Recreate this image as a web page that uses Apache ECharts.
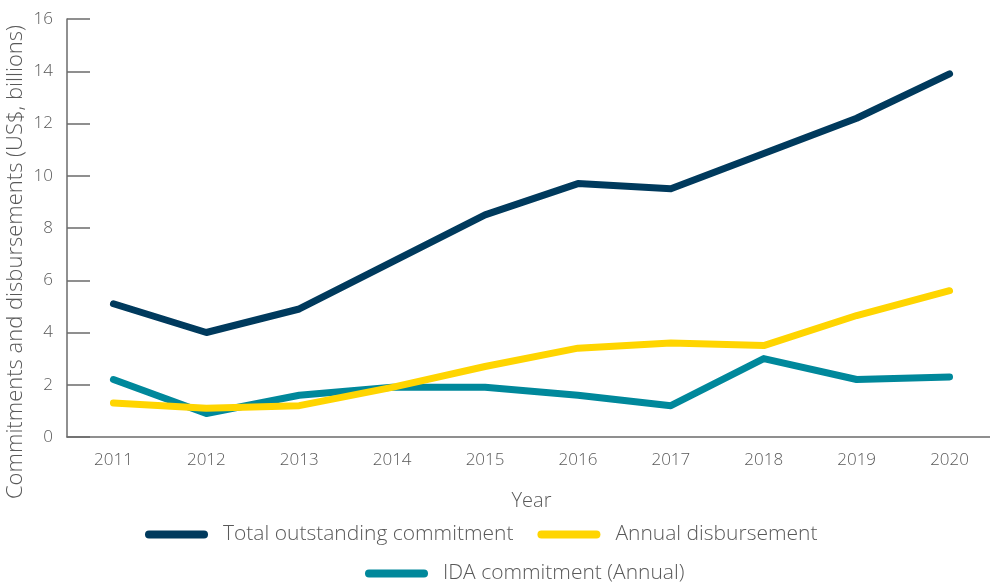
<!DOCTYPE html>
<html>
<head>
<meta charset="utf-8">
<script src="https://cdn.jsdelivr.net/npm/echarts@6/dist/echarts.min.js"></script>
<style>
  html, body { margin: 0; padding: 0; background: #ffffff; }
  #chart { width: 990px; height: 582px; }
</style>
</head>
<body>
<div id="chart"></div>
<script>
const years = ["2011", "2012", "2013", "2014", "2015", "2016", "2017", "2018", "2019", "2020"];
const totalOutstanding = [5.1, 4.0, 4.9, 6.7, 8.5, 9.7, 9.5, 10.85, 12.2, 13.9];
const annualDisbursement = [1.3, 1.1, 1.2, 1.9, 2.7, 3.4, 3.6, 3.5, 4.65, 5.6];
const idaCommitment = [2.2, 0.9, 1.6, 1.9, 1.9, 1.6, 1.2, 3.0, 2.2, 2.3];

const textColor = "#595959";
const axisColor = "#6b6b6b";
const fontName = "Open Sans";
// pill shaped legend icon
const pill = "path://M4,0 H59 A4,4 0 0 1 59,8 H4 A4,4 0 0 1 4,0 Z";

const myChart = echarts.init(document.getElementById("chart"));

const legendText = {
  color: textColor,
  fontFamily: fontName,
  fontWeight: 300,
  fontSize: 21,
  padding: [0, 0, 0, 10]
};

const option = {
  backgroundColor: "#ffffff",
  animation: false,
  grid: {
    left: 67,
    right: -6,
    top: 19,
    bottom: 145,
    outerBoundsMode: "none"
  },
  legend: [
    {
      left: 140,
      top: 519,
      icon: pill,
      itemWidth: 63,
      itemHeight: 9,
      itemGap: 24,
      textStyle: legendText,
      data: ["Total outstanding commitment", "Annual disbursement"]
    },
    {
      left: 360,
      top: 558,
      icon: pill,
      itemWidth: 63,
      itemHeight: 9,
      textStyle: legendText,
      data: ["IDA commitment (Annual)"]
    }
  ],
  xAxis: {
    type: "category",
    data: years,
    boundaryGap: true,
    name: "Year",
    nameLocation: "middle",
    nameGap: 54,
    nameMoveOverlap: false,
    nameTextStyle: {
      color: textColor,
      fontFamily: fontName,
      fontWeight: 300,
      fontSize: 20
    },
    axisLine: { lineStyle: { color: axisColor, width: 1.5 } },
    axisTick: {
      inside: true,
      length: 9,
      lineStyle: { color: axisColor, width: 1.5 }
    },
    axisLabel: {
      color: textColor,
      fontFamily: fontName,
      fontWeight: 300,
      fontSize: 17,
      margin: 15
    },
    splitLine: { show: false }
  },
  yAxis: {
    type: "value",
    min: 0,
    max: 16,
    interval: 2,
    name: "Commitments and disbursements (US$, billions)",
    nameLocation: "middle",
    nameGap: 40,
    nameMoveOverlap: false,
    nameTextStyle: {
      color: textColor,
      fontFamily: fontName,
      fontWeight: 300,
      fontSize: 22,
      padding: [0, 68, 0, 0]
    },
    axisLine: { show: true, lineStyle: { color: axisColor, width: 1.5 } },
    axisTick: {
      show: true,
      inside: true,
      length: 23,
      lineStyle: { color: axisColor, width: 1.5 }
    },
    axisLabel: {
      color: textColor,
      fontFamily: fontName,
      fontWeight: 300,
      fontSize: 17,
      margin: 14
    },
    splitLine: { show: false }
  },
  series: [
    {
      name: "Total outstanding commitment",
      type: "line",
      data: totalOutstanding,
      showSymbol: false,
      symbol: "none",
      itemStyle: { color: "#003a5d" },
      lineStyle: { color: "#003a5d", width: 7, cap: "round", join: "round" }
    },
    {
      name: "IDA commitment (Annual)",
      type: "line",
      data: idaCommitment,
      showSymbol: false,
      symbol: "none",
      itemStyle: { color: "#00889b" },
      lineStyle: { color: "#00889b", width: 7, cap: "round", join: "round" }
    },
    {
      name: "Annual disbursement",
      type: "line",
      data: annualDisbursement,
      showSymbol: false,
      symbol: "none",
      itemStyle: { color: "#ffd500" },
      lineStyle: { color: "#ffd500", width: 7, cap: "round", join: "round" }
    }
  ]
};

myChart.setOption(option);
window.addEventListener("resize", function () {
  myChart.resize();
});
</script>
</body>
</html>
